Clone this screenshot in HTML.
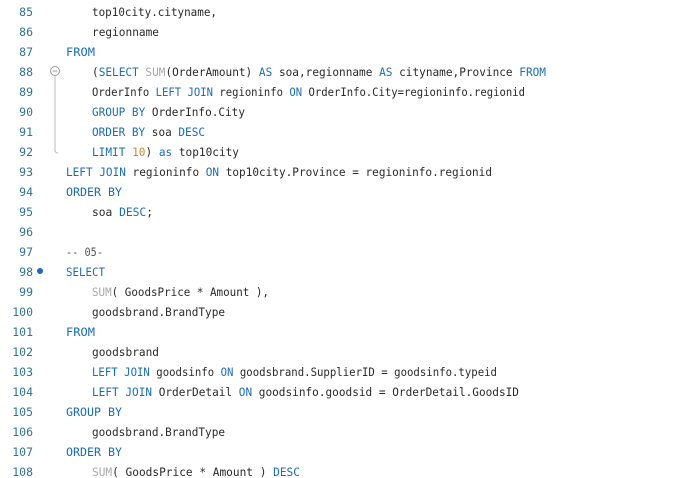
<!DOCTYPE html>
<html><head><style>
html,body{margin:0;padding:0;background:#fff;width:680px;height:478px;overflow:hidden}
svg text{font-family:"DejaVu Sans Mono","Liberation Mono",monospace;font-size:11.5px}
.n{fill:#2f7393}
.t{fill:#2a2a2a}
.k{fill:#1a6db5}
.f{fill:#a8a8a8}
.o{fill:#c9872a}
.c{fill:#555}
</style></head><body>
<svg width="680" height="478" xmlns="http://www.w3.org/2000/svg">
<g text-anchor="end" class="n">
<text x="33" y="16">85</text><text x="33" y="36">86</text><text x="33" y="56">87</text><text x="33" y="76">88</text><text x="33" y="96">89</text><text x="33" y="116">90</text><text x="33" y="136">91</text><text x="33" y="156">92</text><text x="33" y="176">93</text><text x="33" y="196">94</text><text x="33" y="216">95</text><text x="33" y="236">96</text><text x="33" y="256">97</text><text x="33" y="276">98</text><text x="33" y="296">99</text><text x="33" y="316">100</text><text x="33" y="336">101</text><text x="33" y="356">102</text><text x="33" y="376">103</text><text x="33" y="396">104</text><text x="33" y="416">105</text><text x="33" y="436">106</text><text x="33" y="456">107</text><text x="33" y="476">108</text>
</g>
<circle cx="55" cy="71" r="4.5" fill="#fff" stroke="#999" stroke-width="1"/>
<line x1="52.5" y1="71" x2="57.5" y2="71" stroke="#999"/>
<path d="M55 76 V150 Q55 153 58 153" fill="none" stroke="#bbb"/>
<circle cx="40" cy="271" r="3" fill="#1a6db5"/>
<g class="t">
<text x="92" y="16" textLength="125" lengthAdjust="spacingAndGlyphs">top10city.cityname,</text>
<text x="92" y="36" textLength="67" lengthAdjust="spacingAndGlyphs">regionname</text>
<text x="66" y="56" textLength="29" lengthAdjust="spacingAndGlyphs" class="k">FROM</text>
<text x="92" y="76" textLength="454" lengthAdjust="spacingAndGlyphs">(<tspan class="k">SELECT</tspan> <tspan class="f">SUM</tspan>(OrderAmount) <tspan class="k">AS</tspan> soa,regionname <tspan class="k">AS</tspan> cityname,Province <tspan class="k">FROM</tspan></text>
<text x="92" y="96" textLength="433" lengthAdjust="spacingAndGlyphs">OrderInfo <tspan class="k">LEFT JOIN</tspan> regioninfo <tspan class="k">ON</tspan> OrderInfo.City=regioninfo.regionid</text>
<text x="92" y="116" textLength="153" lengthAdjust="spacingAndGlyphs"><tspan class="k">GROUP BY</tspan> OrderInfo.City</text>
<text x="92" y="136" textLength="113" lengthAdjust="spacingAndGlyphs"><tspan class="k">ORDER BY</tspan> soa <tspan class="k">DESC</tspan></text>
<text x="92" y="156" textLength="147" lengthAdjust="spacingAndGlyphs"><tspan class="k">LIMIT</tspan> <tspan class="o">10</tspan>) <tspan class="k">as</tspan> top10city</text>
<text x="66" y="176" textLength="426" lengthAdjust="spacingAndGlyphs"><tspan class="k">LEFT JOIN</tspan> regioninfo <tspan class="k">ON</tspan> top10city.Province = regioninfo.regionid</text>
<text x="66" y="196" textLength="56" lengthAdjust="spacingAndGlyphs" class="k">ORDER BY</text>
<text x="92" y="216" textLength="61" lengthAdjust="spacingAndGlyphs">soa <tspan class="k">DESC</tspan>;</text>
<text x="66" y="256" textLength="37" lengthAdjust="spacingAndGlyphs" class="c">-- 05-</text>
<text x="66" y="276" textLength="39" lengthAdjust="spacingAndGlyphs" class="k">SELECT</text>
<text x="92" y="296" textLength="177" lengthAdjust="spacingAndGlyphs"><tspan class="f">SUM</tspan>( GoodsPrice * Amount ),</text>
<text x="92" y="316" textLength="133" lengthAdjust="spacingAndGlyphs">goodsbrand.BrandType</text>
<text x="66" y="336" textLength="29" lengthAdjust="spacingAndGlyphs" class="k">FROM</text>
<text x="92" y="356" textLength="67" lengthAdjust="spacingAndGlyphs">goodsbrand</text>
<text x="92" y="376" textLength="405" lengthAdjust="spacingAndGlyphs"><tspan class="k">LEFT JOIN</tspan> goodsinfo <tspan class="k">ON</tspan> goodsbrand.SupplierID = goodsinfo.typeid</text>
<text x="92" y="396" textLength="427" lengthAdjust="spacingAndGlyphs"><tspan class="k">LEFT JOIN</tspan> OrderDetail <tspan class="k">ON</tspan> goodsinfo.goodsid = OrderDetail.GoodsID</text>
<text x="66" y="416" textLength="56" lengthAdjust="spacingAndGlyphs" class="k">GROUP BY</text>
<text x="92" y="436" textLength="133" lengthAdjust="spacingAndGlyphs">goodsbrand.BrandType</text>
<text x="66" y="456" textLength="56" lengthAdjust="spacingAndGlyphs" class="k">ORDER BY</text>
<text x="92" y="476" textLength="208" lengthAdjust="spacingAndGlyphs"><tspan class="f">SUM</tspan>( GoodsPrice * Amount ) <tspan class="k">DESC</tspan></text>
</g>
</svg>
</body></html>
